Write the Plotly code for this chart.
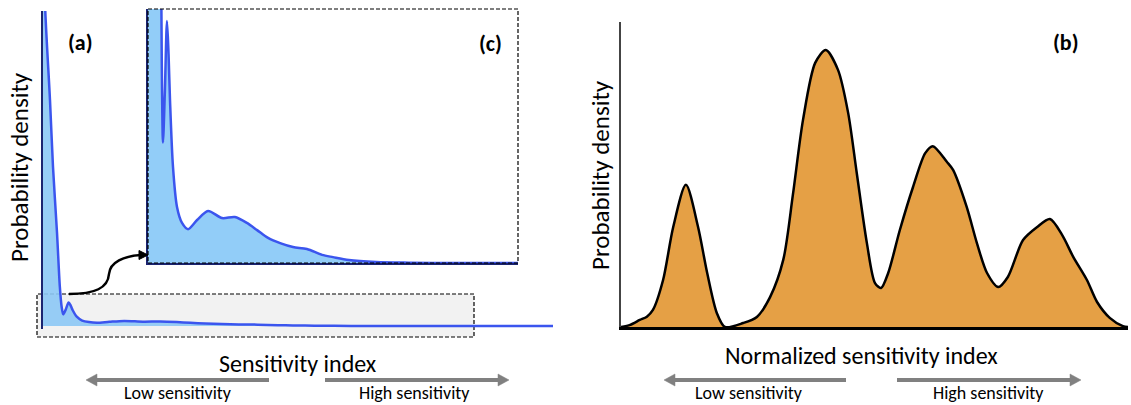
import plotly.graph_objects as go

# ---------------------------------------------------------------------------
# Data
# ---------------------------------------------------------------------------
# Raw sensitivity index (panel a, zoomed in panel c) and its probability density
sens_index = [0.000, 0.004, 0.0137, 0.0196, 0.0275, 0.033, 0.0365, 0.0397,
              0.0445, 0.0503, 0.0545, 0.0583, 0.0662, 0.0768, 0.0901, 0.106,
              0.130, 0.159, 0.196, 0.230, 0.262, 0.289, 0.318, 0.350, 0.384,
              0.421, 0.461, 0.490, 0.532, 0.604, 0.691, 0.800, 1.000]
sens_density = [14.0, 10.2, 7.17, 5.05, 2.95, 1.25, 0.62, 0.37,
                0.52, 0.743, 0.64, 0.50, 0.295, 0.172, 0.123, 0.104,
                0.132, 0.160, 0.138, 0.141, 0.123, 0.101, 0.077, 0.061, 0.049,
                0.043, 0.025, 0.018, 0.009, 0.003, 0.001, 0.0, 0.0]

# Normalized sensitivity index (panel b) and its probability density
norm_index = [0.0, 0.018, 0.037, 0.051, 0.063, 0.083, 0.103, 0.128, 0.152,
              0.170, 0.189, 0.205, 0.241, 0.268, 0.294, 0.320, 0.339, 0.359,
              0.383, 0.404, 0.428, 0.448, 0.465, 0.485, 0.501, 0.513, 0.527,
              0.550, 0.576, 0.600, 0.615, 0.643, 0.655, 0.682, 0.702, 0.722,
              0.744, 0.763, 0.793, 0.821, 0.846, 0.870, 0.892, 0.919, 0.939,
              0.964, 0.990, 1.0]
norm_density = [0.0, 0.007, 0.023, 0.034, 0.056, 0.154, 0.328, 0.466, 0.328,
                0.177, 0.046, 0.0, 0.013, 0.033, 0.098, 0.220, 0.433, 0.679,
                0.866, 0.908, 0.843, 0.702, 0.505, 0.275, 0.144, 0.128, 0.177,
                0.318, 0.459, 0.570, 0.593, 0.541, 0.515, 0.393, 0.275, 0.177,
                0.131, 0.164, 0.285, 0.328, 0.354, 0.302, 0.230, 0.154, 0.082,
                0.030, 0.003, 0.0]

panel_labels = ["(a)", "(b)", "(c)"]
x_titles = ["Sensitivity index", "Normalized sensitivity index"]
y_title = "Probability density"
direction_labels = ["Low sensitivity", "High sensitivity"]

# ---------------------------------------------------------------------------
# Styling / layout helpers
# ---------------------------------------------------------------------------
W, H = 1131, 405
FONT = "Carlito, Lato, 'Open Sans', sans-serif"
BLUE = "#3B55EE"
LIGHT_BLUE = "#92CDF8"
NAVY = "#1B2470"
ORANGE = "#E5A045"
GREY = "#808080"
DASH = "4px,2px"


def fx(p):
    return p / W


def fy(p):
    return 1 - p / H


def path(cmds):
    out = []
    for c in cmds:
        if isinstance(c, str):
            out.append(c)
        else:
            out.append(f"{fx(c[0]):.5f},{fy(c[1]):.5f}")
    return " ".join(out)


fig = go.Figure()

# Panel (a): full distribution
fig.add_trace(go.Scatter(
    x=sens_index, y=sens_density, xaxis="x", yaxis="y", mode="lines",
    line=dict(color=BLUE, width=2.5, shape="spline", smoothing=0.8),
    fill="tozeroy", fillcolor="rgba(140,200,245,0.9)", hoverinfo="skip",
))

# Panel (c): zoom on the low-density region
fig.add_trace(go.Scatter(
    x=sens_index, y=sens_density, xaxis="x2", yaxis="y2", mode="lines",
    line=dict(color=BLUE, width=2.5, shape="spline", smoothing=0.8),
    fill="tozeroy", fillcolor=LIGHT_BLUE, hoverinfo="skip",
))

# Panel (b): normalized distribution
fig.add_trace(go.Scatter(
    x=norm_index, y=norm_density, xaxis="x3", yaxis="y3", mode="lines",
    line=dict(color="black", width=2.5, shape="spline", smoothing=0.8),
    fill="tozeroy", fillcolor=ORANGE, hoverinfo="skip",
))

hidden = dict(showgrid=False, zeroline=False, showticklabels=False, ticks="")

fig.update_layout(
    width=W, height=H, autosize=False,
    margin=dict(l=0, r=0, t=0, b=0),
    paper_bgcolor="white", plot_bgcolor="rgba(0,0,0,0)",
    showlegend=False,
    font=dict(family=FONT, color="black"),
    xaxis=dict(domain=[fx(43), fx(553)], range=[0, 1], anchor="y",
               showline=False, **hidden),
    yaxis=dict(domain=[fy(328.5), fy(11)], range=[-0.08, 10], anchor="x",
               showline=True, linecolor=NAVY, linewidth=2, **hidden),
    xaxis2=dict(domain=[fx(148), fx(518)], range=[0, 0.98], anchor="y2",
                showline=True, linecolor=NAVY, linewidth=2, **hidden),
    yaxis2=dict(domain=[fy(263), fy(9)], range=[0, 0.78], anchor="x2",
                showline=True, linecolor=NAVY, linewidth=2, **hidden),
    xaxis3=dict(domain=[fx(621), fx(1128)], range=[0, 1], anchor="y3",
                showline=True, linecolor="black", linewidth=3, **hidden),
    yaxis3=dict(domain=[fy(327), fy(22)], range=[0, 1], anchor="x3",
                showline=True, linecolor="#444444", linewidth=1.5, **hidden),
)

shapes = []
# Highlighted low-density band in panel (a)
shapes.append(dict(type="rect", xref="paper", yref="paper",
                   x0=fx(37), x1=fx(474), y0=fy(337), y1=fy(294),
                   fillcolor="#F2F2F2",
                   line=dict(color="black", width=1.2, dash=DASH), layer="below"))
# Dashed frame of the zoom panel (c)
shapes.append(dict(type="rect", xref="paper", yref="paper",
                   x0=fx(148), x1=fx(518), y0=fy(263), y1=fy(9),
                   line=dict(color="black", width=1.2, dash=DASH), layer="above"))
# Curved connector from the band to the zoom panel
shapes.append(dict(type="path", xref="paper", yref="paper",
                   path=path(["M", (69, 294), "C", (95, 294), (108, 288), (109, 274),
                              "C", (110, 262), (124, 256), (141, 255)]),
                   line=dict(color="black", width=2.5)))
shapes.append(dict(type="path", xref="paper", yref="paper",
                   path=path(["M", (139, 250.5), "L", (148, 255), "L", (139, 259.5), "Z"]),
                   fillcolor="black", line=dict(color="black", width=1)))


def grey_arrow(tail, tip, y):
    d = 1 if tip > tail else -1
    base = tip - d * 11
    shapes.append(dict(type="line", xref="paper", yref="paper",
                       x0=fx(tail), x1=fx(base), y0=fy(y), y1=fy(y),
                       line=dict(color=GREY, width=4)))
    shapes.append(dict(type="path", xref="paper", yref="paper",
                       path=path(["M", (base, y - 6), "L", (tip, y), "L", (base, y + 6), "Z"]),
                       fillcolor=GREY, line=dict(color=GREY, width=0.5)))


grey_arrow(269, 86, 380)
grey_arrow(325, 509, 380)
grey_arrow(846, 664, 380)
grey_arrow(897, 1081, 380)

fig.update_layout(shapes=shapes)


def label(text, x, y, size, bold=False, angle=0):
    fig.add_annotation(
        text=f"<b>{text}</b>" if bold else text,
        x=fx(x), y=fy(y), xref="paper", yref="paper",
        xanchor="center", yanchor="middle", showarrow=False,
        textangle=angle, font=dict(family=FONT, size=size, color="black"),
    )


label(panel_labels[0], 80, 42, 22, bold=True)
label(panel_labels[1], 1066, 42, 22, bold=True)
label(panel_labels[2], 490, 44, 22, bold=True)

label(y_title, 19, 167, 25, angle=-90)
label(y_title, 601, 175, 25, angle=-90)

label(x_titles[0], 298, 363, 24)
label(x_titles[1], 861, 355, 24)

label(direction_labels[0], 178, 393, 18)
label(direction_labels[1], 414, 393, 18)
label(direction_labels[0], 749, 393, 18)
label(direction_labels[1], 988, 393, 18)

fig.write_html("out.html")
